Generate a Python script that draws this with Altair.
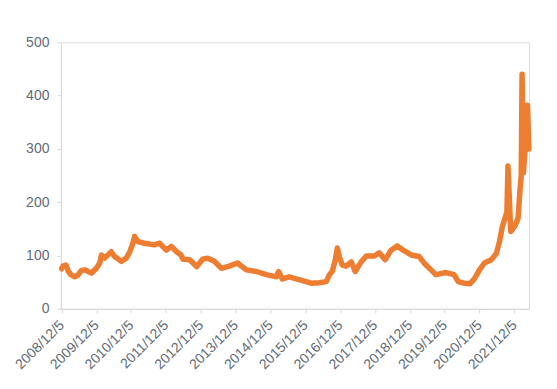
import altair as alt
import pandas as pd

# series
dates = [
    "2008-12-05", "2008-12-20", "2009-01-20", "2009-02-15", "2009-03-12", "2009-04-23",
    "2009-05-25", "2009-07-01", "2009-08-10", "2009-09-10", "2009-10-15", "2009-12-05",
    "2010-01-10", "2010-01-27", "2010-03-02", "2010-04-22", "2010-05-10", "2010-06-15",
    "2010-08-23", "2010-10-15", "2010-11-20", "2010-12-23", "2011-01-10", "2011-02-13",
    "2011-04-25", "2011-08-05", "2011-09-29", "2011-12-09", "2012-01-30", "2012-03-25",
    "2012-05-10", "2012-06-01", "2012-08-10", "2012-10-21", "2012-12-23", "2013-02-13",
    "2013-04-26", "2013-07-08", "2013-09-29", "2013-12-23", "2014-03-27", "2014-07-11",
    "2014-10-22", "2015-02-05", "2015-02-27", "2015-04-08", "2015-06-20", "2015-09-01",
    "2015-11-24", "2016-02-05", "2016-04-30", "2016-07-12", "2016-08-14", "2016-09-12",
    "2016-10-15", "2016-11-05", "2016-11-25", "2016-12-27", "2017-02-05", "2017-04-01",
    "2017-05-11", "2017-07-12", "2017-09-05", "2017-11-28", "2018-01-18", "2018-03-21",
    "2018-05-22", "2018-07-26", "2018-09-26", "2018-12-19", "2019-03-13", "2019-05-03",
    "2019-07-15", "2019-09-05", "2019-12-19", "2020-03-13", "2020-04-25", "2020-06-25",
    "2020-08-28", "2020-10-14", "2020-12-05", "2021-01-25", "2021-04-07", "2021-05-31",
    "2021-07-02", "2021-08-01", "2021-09-03", "2021-09-18", "2021-09-29", "2021-10-15",
    "2021-10-28", "2021-11-20", "2021-12-12", "2022-01-13", "2022-02-01", "2022-02-15",
    "2022-02-24", "2022-03-10", "2022-03-28", "2022-04-22", "2022-05-06",
]
values = [
    75, 80, 82, 70, 64, 60,
    63, 72, 73, 70, 67, 76,
    86, 101, 95, 104, 107, 98,
    89, 95, 107, 123, 136, 126,
    123, 120, 123, 110, 117, 107,
    101, 93, 92, 79, 93, 95,
    89, 76, 80, 86, 73, 70,
    64, 60, 70, 56, 60, 56,
    52, 48, 49, 51, 64, 70,
    92, 114, 98, 82, 80, 88,
    70, 88, 99, 99, 105, 92,
    110, 118, 110, 101, 98, 86,
    73, 64, 68, 64, 51, 48,
    47, 57, 73, 86, 92, 104,
    126, 154, 173, 182, 268, 200,
    145, 150, 156, 170, 220, 250,
    440, 255, 300, 382, 300,
]

tick_years = [2008, 2009, 2010, 2011, 2012, 2013, 2014,
              2015, 2016, 2017, 2018, 2019, 2020, 2021]
y_ticks = [0, 100, 200, 300, 400, 500]

df = pd.DataFrame({"date": dates, "value": values})

axis_color = "#D9D9D9"
label_color = "#636b75"
font = "Liberation Sans"

chart = (
    alt.Chart(df)
    .mark_line(color="#ED7D31", strokeWidth=5.5, strokeCap="round", strokeJoin="round")
    .encode(
        x=alt.X(
            "date:T",
            scale=alt.Scale(
                type="utc",
                domain=[
                    alt.DateTime(year=2008, month=11, date=28, utc=True),
                    alt.DateTime(year=2022, month=5, date=8, utc=True),
                ],
            ),
            axis=alt.Axis(
                title=None,
                values=[alt.DateTime(year=y, month=12, date=5, utc=True) for y in tick_years],
                labelExpr="utcFormat(datum.value, '%Y/%-m/%-d')",
                labelAngle=-45,
                labelAlign="right",
                labelBaseline="middle",
                labelPadding=10,
                labelFontSize=14,
                labelFont=font,
                labelColor=label_color,
                domainColor=axis_color,
                tickColor=axis_color,
                tickSize=4,
                grid=False,
                labelOverlap=False,
                labelBound=False,
                labelFlush=False,
            ),
        ),
        y=alt.Y(
            "value:Q",
            scale=alt.Scale(domain=[0, 500], nice=False, zero=True),
            axis=alt.Axis(
                title=None,
                values=y_ticks,
                labelFontSize=14,
                labelFont=font,
                labelColor=label_color,
                labelPadding=8,
                domainColor=axis_color,
                tickColor=axis_color,
                tickSize=4,
                grid=False,
            ),
        ),
    )
    .properties(
        width=469,
        height=267,
        autosize=alt.AutoSizeParams(type="none"),
        padding={"left": 53, "top": 34, "right": 20, "bottom": 80},
    )
    .configure_view(stroke=None)
    .configure(background="white")
)

chart.save("out.html", embed_options={"renderer": "svg", "actions": False})
